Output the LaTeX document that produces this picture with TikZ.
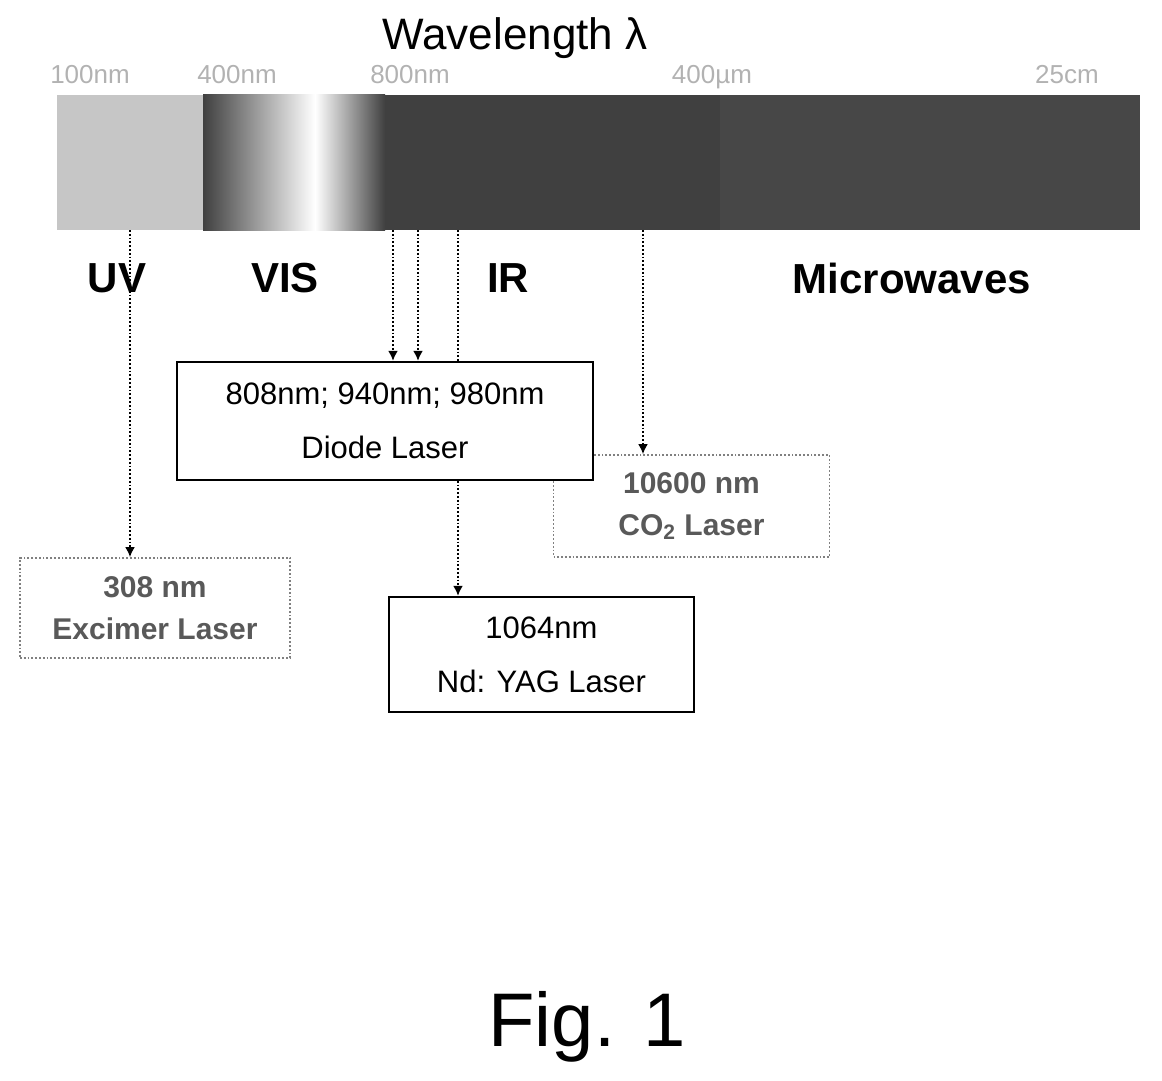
\documentclass[tikz,border=0pt]{standalone}
\usepackage{fontspec}
\setmainfont{Liberation Sans}
\usetikzlibrary{arrows.meta}
\begin{document}
\begin{tikzpicture}[x=0.5pt,y=-0.5pt,
  box/.style={draw,line width=1.2pt,fill=white,align=center,font=\fontsize{15.5}{27}\selectfont,inner sep=0pt},
  dbox/.style={draw=gray,densely dotted,line width=0.9pt,fill=white,align=center,text=gray!70!black,font=\bfseries\fontsize{15}{21}\selectfont,inner sep=0pt},
  conn/.style={densely dotted,line width=0.9pt,-{Latex[length=5pt,width=5pt]}},
  tick/.style={text=gray!60,font=\fontsize{13}{13}\selectfont,text height=9pt,text depth=0pt},
  band/.style={font=\bfseries\fontsize{21}{22}\selectfont}]
\useasboundingbox (0,0) rectangle (1162,1081);
% spectrum bar
\fill[gray!45] (57,95) rectangle (203,230);
\shade[left color=black!75,right color=white] (203,95) rectangle (315,230);
\shade[left color=white,right color=black!75] (315,95) rectangle (385,230);
\fill[black!75] (385,95) rectangle (720,230);
\fill[black!72] (720,95) rectangle (1140,230);
\node (title) at (515,38) {\fontsize{22}{24}\selectfont Wavelength λ};
\node[tick] (t1) at (90,75) {100nm};
\node[tick] (t2) at (237,75) {400nm};
\node[tick] (t3) at (410,75) {800nm};
\node[tick] (t4) at (712,75) {400µm};
\node[tick] (t5) at (1067,75) {25cm};
\node[band] (uv) at (117,278) {UV};
\node[band] (vis) at (285,278) {VIS};
\node[band] (ir) at (508,278) {IR};
\node[band] (mw) at (912,278) {Microwaves};
\coordinate (s1) at (130,230);
\coordinate (s2) at (393,230);
\coordinate (s3) at (418,230);
\coordinate (s4) at (458,230);
\coordinate (s5) at (643,230);
% boxes
\node[dbox,minimum width=138pt,minimum height=51pt] (co2) at (691.5,506) {10600 nm\\CO\textsubscript{2} Laser};
\node[dbox,minimum width=135pt,minimum height=50pt] (exc) at (155,608) {308 nm\\Excimer Laser};
\node[box,minimum width=152.5pt,minimum height=57.5pt] (yag) at (541.5,654.5) {1064nm\\Nd: YAG Laser};
\draw[conn] (s4) -- (s4 |- yag.north);
\node[box,minimum width=208pt,minimum height=59pt] (diode) at (385,421) {808nm; 940nm; 980nm\\Diode Laser};
\draw[conn] (s1) -- (s1 |- exc.north);
\draw[conn] (s2) -- (s2 |- diode.north);
\draw[conn] (s3) -- (s3 |- diode.north);
\draw[conn] (s5) -- (s5 |- co2.north);
\node (fig) at (587,1027) {\fontsize{38}{40}\selectfont Fig. 1};
\end{tikzpicture}
\end{document}
